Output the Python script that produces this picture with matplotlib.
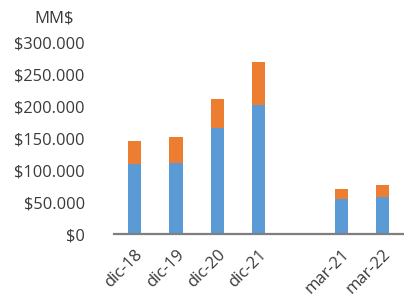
import matplotlib.pyplot as plt
import numpy as np
from matplotlib.ticker import FuncFormatter

plt.rcParams['font.family'] = ['Open Sans', 'DejaVu Sans']

categories = ['dic-18', 'dic-19', 'dic-20', 'dic-21', '', 'mar-21', 'mar-22']
blue_vals = [110000, 111500, 166000, 203000, 0, 54500, 58000]
orange_vals = [36000, 41000, 46000, 67000, 0, 15500, 19000]

blue = '#5B9BD5'
orange = '#ED7D31'
txt = '#3a3a3a'

fig = plt.figure(figsize=(4.04, 3.0), dpi=100)
ax = fig.add_axes([0.282, 0.22, 0.716, 0.637])

x = np.arange(len(categories))
ax.bar(x, blue_vals, width=0.32, color=blue, zorder=2)
ax.bar(x, orange_vals, width=0.32, bottom=blue_vals, color=orange, zorder=2)

ax.set_xlim(-0.5, len(categories) - 0.5)
ax.set_ylim(0, 300000)
ax.set_yticks(np.arange(0, 300001, 50000))

def money(v, pos):
    if v == 0:
        return '$0'
    return '$' + format(int(v), ',').replace(',', '.')

ax.yaxis.set_major_formatter(FuncFormatter(money))
ax.tick_params(axis='y', length=0, pad=21, labelsize=11.8, labelcolor=txt)
ax.set_xticks(x)
ax.set_xticklabels(categories, rotation=45, ha='right', va='top',
                   rotation_mode='anchor', fontsize=12, color=txt)
ax.tick_params(axis='x', length=0, pad=9)

for s in ['top', 'right', 'left']:
    ax.spines[s].set_visible(False)
ax.spines['bottom'].set_color('#7f7f7f')
ax.spines['bottom'].set_linewidth(1.6)
ax.spines['bottom'].set_zorder(3)

fig.text(0.134, 0.938, 'MM$', ha='center', va='center', fontsize=12,
         color=txt)

fig.savefig('out.png', dpi=100)
